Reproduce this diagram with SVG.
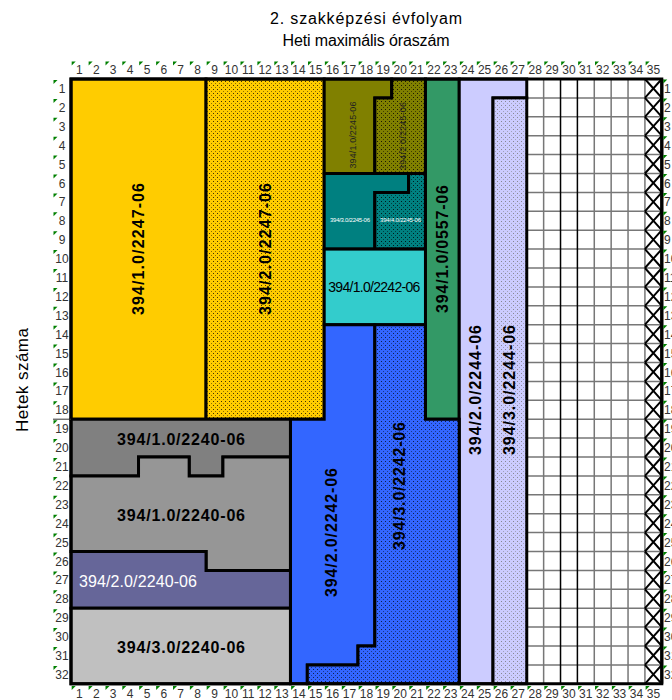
<svg xmlns="http://www.w3.org/2000/svg" width="672" height="700" viewBox="0 0 672 700">
<defs>
<pattern id="dotY" width="4" height="4" patternUnits="userSpaceOnUse"><rect width="4" height="4" fill="#FFCC00"/><rect x="1" y="1" width="1" height="1" fill="#000" fill-opacity="0.75"/><rect x="3" y="3" width="1" height="1" fill="#000" fill-opacity="0.45"/></pattern>
<pattern id="dotO" width="4" height="4" patternUnits="userSpaceOnUse"><rect width="4" height="4" fill="#808000"/><rect x="1" y="1" width="1" height="1" fill="#000" fill-opacity="0.8"/><rect x="3" y="3" width="1" height="1" fill="#000" fill-opacity="0.5"/></pattern>
<pattern id="dotT" width="4" height="4" patternUnits="userSpaceOnUse"><rect width="4" height="4" fill="#008080"/><rect x="1" y="1" width="1" height="1" fill="#000" fill-opacity="0.8"/><rect x="3" y="3" width="1" height="1" fill="#000" fill-opacity="0.5"/></pattern>
<pattern id="dotB" width="4" height="4" patternUnits="userSpaceOnUse"><rect width="4" height="4" fill="#3366FF"/><rect x="1" y="1" width="1" height="1" fill="#000" fill-opacity="0.7"/><rect x="3" y="3" width="1" height="1" fill="#000" fill-opacity="0.45"/></pattern>
<pattern id="dotL" width="4" height="4" patternUnits="userSpaceOnUse"><rect width="4" height="4" fill="#CCCCFF"/><rect x="1" y="1" width="1" height="1" fill="#777" fill-opacity="0.8"/><rect x="3" y="3" width="1" height="1" fill="#777" fill-opacity="0.5"/></pattern>
<path id="tri" d="M0,0 h4 l-4,4 z" fill="#008000"/>
</defs>
<style>
.blk{stroke:#000;stroke-width:3;stroke-linejoin:miter}
.t{font-family:"Liberation Sans",Arial,sans-serif}
.b{font-weight:bold;font-size:16px;fill:#000}
.ax{font-family:"Liberation Sans",Arial,sans-serif;font-size:12px;fill:#333;text-anchor:middle}
.axr{font-family:"Liberation Sans",Arial,sans-serif;font-size:12px;fill:#333;text-anchor:start}
.gl{stroke:#777;stroke-width:1.5;fill:none}
.gk{stroke:#000;stroke-width:1.5;fill:none}
.x{stroke:#000;stroke-width:2;fill:none}
</style>
<rect width="672" height="700" fill="#fff"/>
<g id="title" class="t" text-anchor="middle" fill="#000">
<text x="366" y="24" font-size="16" textLength="192">2. szakképzési évfolyam</text>
<text x="366" y="46" font-size="16" textLength="167">Heti maximális óraszám</text>
</g>
<g id="yaxis-title"><text class="t" x="22" y="386" font-size="17" text-anchor="middle" transform="rotate(-90 22 380)" textLength="104">Hetek száma</text></g>

<g id="grid">
<rect x="526.76" y="79" width="135.04" height="604.8" fill="#fff"/>
<g class="gl">
<path d="M543.64,79V683.8M594.28,79V683.8M611.16,79V683.8M628.04,79V683.8M644.92,79V683.8"/>
<path d="M526.76,97.9H661.8M526.76,116.8H661.8M526.76,135.7H661.8M526.76,154.6H661.8M526.76,173.5H661.8M526.76,192.4H661.8M526.76,211.3H661.8M526.76,230.2H661.8M526.76,249.1H661.8M526.76,268H661.8M526.76,286.9H661.8M526.76,305.8H661.8M526.76,324.7H661.8M526.76,343.6H661.8M526.76,362.5H661.8M526.76,381.4H661.8M526.76,400.3H661.8M526.76,419.2H661.8M526.76,438.1H661.8M526.76,457H661.8M526.76,475.9H661.8M526.76,494.8H661.8M526.76,513.7H661.8M526.76,532.6H661.8M526.76,551.5H661.8M526.76,570.4H661.8M526.76,589.3H661.8M526.76,608.2H661.8M526.76,627.1H661.8M526.76,646H661.8M526.76,664.9H661.8"/>
</g>
<path class="gk" d="M560.52,79V683.8M577.4,79V683.8"/>
<path class="x" d="M644.92,79L661.8,97.9M661.8,79L644.92,97.9M644.92,97.9L661.8,116.8M661.8,97.9L644.92,116.8M644.92,116.8L661.8,135.7M661.8,116.8L644.92,135.7M644.92,135.7L661.8,154.6M661.8,135.7L644.92,154.6M644.92,154.6L661.8,173.5M661.8,154.6L644.92,173.5M644.92,173.5L661.8,192.4M661.8,173.5L644.92,192.4M644.92,192.4L661.8,211.3M661.8,192.4L644.92,211.3M644.92,211.3L661.8,230.2M661.8,211.3L644.92,230.2M644.92,230.2L661.8,249.1M661.8,230.2L644.92,249.1M644.92,249.1L661.8,268M661.8,249.1L644.92,268M644.92,268L661.8,286.9M661.8,268L644.92,286.9M644.92,286.9L661.8,305.8M661.8,286.9L644.92,305.8M644.92,305.8L661.8,324.7M661.8,305.8L644.92,324.7M644.92,324.7L661.8,343.6M661.8,324.7L644.92,343.6M644.92,343.6L661.8,362.5M661.8,343.6L644.92,362.5M644.92,362.5L661.8,381.4M661.8,362.5L644.92,381.4M644.92,381.4L661.8,400.3M661.8,381.4L644.92,400.3M644.92,400.3L661.8,419.2M661.8,400.3L644.92,419.2M644.92,419.2L661.8,438.1M661.8,419.2L644.92,438.1M644.92,438.1L661.8,457M661.8,438.1L644.92,457M644.92,457L661.8,475.9M661.8,457L644.92,475.9M644.92,475.9L661.8,494.8M661.8,475.9L644.92,494.8M644.92,494.8L661.8,513.7M661.8,494.8L644.92,513.7M644.92,513.7L661.8,532.6M661.8,513.7L644.92,532.6M644.92,532.6L661.8,551.5M661.8,532.6L644.92,551.5M644.92,551.5L661.8,570.4M661.8,551.5L644.92,570.4M644.92,570.4L661.8,589.3M661.8,570.4L644.92,589.3M644.92,589.3L661.8,608.2M661.8,589.3L644.92,608.2M644.92,608.2L661.8,627.1M661.8,608.2L644.92,627.1M644.92,627.1L661.8,646M661.8,627.1L644.92,646M644.92,646L661.8,664.9M661.8,646L644.92,664.9M644.92,664.9L661.8,683.8M661.8,664.9L644.92,683.8"/>
<path d="M661.8,79V683.8" stroke="#000" stroke-width="3"/>
</g>

<g id="n-394-1-0-2247-06"><rect class="blk" x="71" y="79" width="135.04" height="340.2" fill="#FFCC00"/>
<text class="t b" x="138" y="254.6" text-anchor="middle" transform="rotate(-90 138 249)" textLength="132">394/1.0/2247-06</text></g>
<g id="n-394-2-0-2247-06"><rect class="blk" x="206.04" y="79" width="118.16" height="340.2" fill="url(#dotY)"/>
<text class="t b" x="265" y="254.6" text-anchor="middle" transform="rotate(-90 265 249)" textLength="132">394/2.0/2247-06</text></g>
<g id="n-394-1-0-2245-06"><polygon class="blk" points="324.2,79 391.72,79 391.72,97.9 374.84,97.9 374.84,173.5 324.2,173.5" fill="#808000"/>
<text class="t" x="353" y="138" font-size="9" fill="#222" text-anchor="middle" transform="rotate(-90 353 135)" textLength="67">394/1.0/2245-06</text></g>
<g id="n-394-2-0-2245-06"><polygon class="blk" points="391.72,79 425.48,79 425.48,173.5 374.84,173.5 374.84,97.9 391.72,97.9" fill="url(#dotO)"/>
<text class="t" x="403" y="139" font-size="9" fill="#222" text-anchor="middle" transform="rotate(-90 403 136)" textLength="68">394/2.0/2245-06</text></g>
<g id="n-394-3-0-2245-06"><polygon class="blk" points="324.2,173.5 408.6,173.5 408.6,192.4 374.84,192.4 374.84,249.1 324.2,249.1" fill="#008080"/>
<text class="t" x="350" y="222" font-size="6" fill="#fff" text-anchor="middle" textLength="40">394/3.0/2245-06</text></g>
<g id="n-394-4-0-2245-06"><polygon class="blk" points="408.6,173.5 425.48,173.5 425.48,249.1 374.84,249.1 374.84,192.4 408.6,192.4" fill="url(#dotT)"/>
<text class="t" x="400.5" y="222" font-size="6" fill="#fff" text-anchor="middle" textLength="41">394/4.0/2245-06</text></g>
<g id="n-394-1-0-2242-06"><rect class="blk" x="324.2" y="249.1" width="101.28" height="75.6" fill="#33CCCC"/>
<text class="t" x="374.3" y="291.5" font-size="14" fill="#000" text-anchor="middle" textLength="92">394/1.0/2242-06</text></g>
<g id="n-394-1-0-0557-06"><rect class="blk" x="425.48" y="79" width="33.76" height="340.2" fill="#339966"/>
<text class="t b" x="442" y="254.6" text-anchor="middle" transform="rotate(-90 442 249)" textLength="128">394/1.0/0557-06</text></g>
<g id="n-394-2-0-2244-06"><polygon class="blk" points="459.24,79 526.76,79 526.76,97.9 493,97.9 493,683.8 459.24,683.8" fill="#CCCCFF"/>
<text class="t b" x="475" y="395.6" text-anchor="middle" transform="rotate(-90 475 390)" textLength="130">394/2.0/2244-06</text></g>
<g id="n-394-3-0-2244-06"><rect class="blk" x="493" y="97.9" width="33.76" height="585.9" fill="url(#dotL)"/>
<text class="t b" x="509" y="395.6" text-anchor="middle" transform="rotate(-90 509 390)" textLength="130">394/3.0/2244-06</text></g>
<g id="n-394-2-0-2242-06"><polygon class="blk" points="290.44,419.2 324.2,419.2 324.2,324.7 374.84,324.7 374.84,646 357.96,646 357.96,664.9 307.32,664.9 307.32,683.8 290.44,683.8" fill="#3366FF"/>
<text class="t b" x="331.5" y="538.1" text-anchor="middle" transform="rotate(-90 331.5 532.5)" textLength="129">394/2.0/2242-06</text></g>
<g id="n-394-3-0-2242-06"><polygon class="blk" points="374.84,324.7 425.48,324.7 425.48,419.2 459.24,419.2 459.24,683.8 307.32,683.8 307.32,664.9 357.96,664.9 357.96,646 374.84,646" fill="url(#dotB)"/>
<text class="t b" x="399" y="491.6" text-anchor="middle" transform="rotate(-90 399 486)" textLength="128">394/3.0/2242-06</text></g>
<g id="n-394-1-0-2240-06-a"><polygon class="blk" points="71,419.2 290.44,419.2 290.44,457 222.92,457 222.92,475.9 189.16,475.9 189.16,457 138.52,457 138.52,475.9 71,475.9" fill="#808080"/>
<text class="t b" x="181" y="445" text-anchor="middle" textLength="128">394/1.0/2240-06</text></g>
<g id="n-394-1-0-2240-06-b"><polygon class="blk" points="71,475.9 138.52,475.9 138.52,457 189.16,457 189.16,475.9 222.92,475.9 222.92,457 290.44,457 290.44,570.4 206.04,570.4 206.04,551.5 71,551.5" fill="#969696"/>
<text class="t b" x="181" y="521" text-anchor="middle" textLength="128">394/1.0/2240-06</text></g>
<g id="n-394-2-0-2240-06"><polygon class="blk" points="71,551.5 206.04,551.5 206.04,570.4 290.44,570.4 290.44,608.2 71,608.2" fill="#666699"/>
<text class="t" x="138" y="587" font-size="16" fill="#fff" text-anchor="middle" textLength="118">394/2.0/2240-06</text></g>
<g id="n-394-3-0-2240-06"><rect class="blk" x="71" y="608.2" width="219.44" height="75.6" fill="#C0C0C0"/>
<text class="t b" x="181" y="652.5" text-anchor="middle" textLength="128">394/3.0/2240-06</text></g>

<g id="frame"><path d="M71,79H661.8V683.8H71Z" fill="none" stroke="#000" stroke-width="3"/>
<path d="M53,419.2H71M662,419.2H672" stroke="#333" stroke-width="1"/></g>

<g id="top-axis">
<text class="ax" x="79.4" y="74">1</text><text class="ax" x="96.3" y="74">2</text><text class="ax" x="113.2" y="74">3</text><text class="ax" x="130.1" y="74">4</text><text class="ax" x="147" y="74">5</text><text class="ax" x="163.8" y="74">6</text><text class="ax" x="180.7" y="74">7</text><text class="ax" x="197.6" y="74">8</text><text class="ax" x="214.5" y="74">9</text><text class="ax" x="231.4" y="74">10</text><text class="ax" x="248.2" y="74">11</text><text class="ax" x="265.1" y="74">12</text><text class="ax" x="282" y="74">13</text><text class="ax" x="298.9" y="74">14</text><text class="ax" x="315.8" y="74">15</text><text class="ax" x="332.6" y="74">16</text><text class="ax" x="349.5" y="74">17</text><text class="ax" x="366.4" y="74">18</text><text class="ax" x="383.3" y="74">19</text><text class="ax" x="400.2" y="74">20</text><text class="ax" x="417" y="74">21</text><text class="ax" x="433.9" y="74">22</text><text class="ax" x="450.8" y="74">23</text><text class="ax" x="467.7" y="74">24</text><text class="ax" x="484.6" y="74">25</text><text class="ax" x="501.4" y="74">26</text><text class="ax" x="518.3" y="74">27</text><text class="ax" x="535.2" y="74">28</text><text class="ax" x="552.1" y="74">29</text><text class="ax" x="569" y="74">30</text><text class="ax" x="585.8" y="74">31</text><text class="ax" x="602.7" y="74">32</text><text class="ax" x="619.6" y="74">33</text><text class="ax" x="636.5" y="74">34</text><text class="ax" x="653.4" y="74">35</text>
<use href="#tri" x="71.7" y="61.5"/><use href="#tri" x="88.6" y="61.5"/><use href="#tri" x="105.5" y="61.5"/><use href="#tri" x="122.3" y="61.5"/><use href="#tri" x="139.2" y="61.5"/><use href="#tri" x="156.1" y="61.5"/><use href="#tri" x="173" y="61.5"/><use href="#tri" x="189.9" y="61.5"/><use href="#tri" x="206.7" y="61.5"/><use href="#tri" x="223.6" y="61.5"/><use href="#tri" x="240.5" y="61.5"/><use href="#tri" x="257.4" y="61.5"/><use href="#tri" x="274.3" y="61.5"/><use href="#tri" x="291.1" y="61.5"/><use href="#tri" x="308" y="61.5"/><use href="#tri" x="324.9" y="61.5"/><use href="#tri" x="341.8" y="61.5"/><use href="#tri" x="358.7" y="61.5"/><use href="#tri" x="375.5" y="61.5"/><use href="#tri" x="392.4" y="61.5"/><use href="#tri" x="409.3" y="61.5"/><use href="#tri" x="426.2" y="61.5"/><use href="#tri" x="443.1" y="61.5"/><use href="#tri" x="459.9" y="61.5"/><use href="#tri" x="476.8" y="61.5"/><use href="#tri" x="493.7" y="61.5"/><use href="#tri" x="510.6" y="61.5"/><use href="#tri" x="527.5" y="61.5"/><use href="#tri" x="544.3" y="61.5"/><use href="#tri" x="561.2" y="61.5"/><use href="#tri" x="578.1" y="61.5"/><use href="#tri" x="595" y="61.5"/><use href="#tri" x="611.9" y="61.5"/><use href="#tri" x="628.7" y="61.5"/><use href="#tri" x="645.6" y="61.5"/>
</g>
<g id="bottom-axis">
<text class="ax" x="79.4" y="698">1</text><text class="ax" x="96.3" y="698">2</text><text class="ax" x="113.2" y="698">3</text><text class="ax" x="130.1" y="698">4</text><text class="ax" x="147" y="698">5</text><text class="ax" x="163.8" y="698">6</text><text class="ax" x="180.7" y="698">7</text><text class="ax" x="197.6" y="698">8</text><text class="ax" x="214.5" y="698">9</text><text class="ax" x="231.4" y="698">10</text><text class="ax" x="248.2" y="698">11</text><text class="ax" x="265.1" y="698">12</text><text class="ax" x="282" y="698">13</text><text class="ax" x="298.9" y="698">14</text><text class="ax" x="315.8" y="698">15</text><text class="ax" x="332.6" y="698">16</text><text class="ax" x="349.5" y="698">17</text><text class="ax" x="366.4" y="698">18</text><text class="ax" x="383.3" y="698">19</text><text class="ax" x="400.2" y="698">20</text><text class="ax" x="417" y="698">21</text><text class="ax" x="433.9" y="698">22</text><text class="ax" x="450.8" y="698">23</text><text class="ax" x="467.7" y="698">24</text><text class="ax" x="484.6" y="698">25</text><text class="ax" x="501.4" y="698">26</text><text class="ax" x="518.3" y="698">27</text><text class="ax" x="535.2" y="698">28</text><text class="ax" x="552.1" y="698">29</text><text class="ax" x="569" y="698">30</text><text class="ax" x="585.8" y="698">31</text><text class="ax" x="602.7" y="698">32</text><text class="ax" x="619.6" y="698">33</text><text class="ax" x="636.5" y="698">34</text><text class="ax" x="653.4" y="698">35</text>
<use href="#tri" x="71.7" y="686"/><use href="#tri" x="88.6" y="686"/><use href="#tri" x="105.5" y="686"/><use href="#tri" x="122.3" y="686"/><use href="#tri" x="139.2" y="686"/><use href="#tri" x="156.1" y="686"/><use href="#tri" x="173" y="686"/><use href="#tri" x="189.9" y="686"/><use href="#tri" x="206.7" y="686"/><use href="#tri" x="223.6" y="686"/><use href="#tri" x="240.5" y="686"/><use href="#tri" x="257.4" y="686"/><use href="#tri" x="274.3" y="686"/><use href="#tri" x="291.1" y="686"/><use href="#tri" x="308" y="686"/><use href="#tri" x="324.9" y="686"/><use href="#tri" x="341.8" y="686"/><use href="#tri" x="358.7" y="686"/><use href="#tri" x="375.5" y="686"/><use href="#tri" x="392.4" y="686"/><use href="#tri" x="409.3" y="686"/><use href="#tri" x="426.2" y="686"/><use href="#tri" x="443.1" y="686"/><use href="#tri" x="459.9" y="686"/><use href="#tri" x="476.8" y="686"/><use href="#tri" x="493.7" y="686"/><use href="#tri" x="510.6" y="686"/><use href="#tri" x="527.5" y="686"/><use href="#tri" x="544.3" y="686"/><use href="#tri" x="561.2" y="686"/><use href="#tri" x="578.1" y="686"/><use href="#tri" x="595" y="686"/><use href="#tri" x="611.9" y="686"/><use href="#tri" x="628.7" y="686"/><use href="#tri" x="645.6" y="686"/>
</g>
<g id="left-axis">
<text class="ax" x="62" y="93">1</text><text class="ax" x="62" y="111.9">2</text><text class="ax" x="62" y="130.8">3</text><text class="ax" x="62" y="149.7">4</text><text class="ax" x="62" y="168.6">5</text><text class="ax" x="62" y="187.5">6</text><text class="ax" x="62" y="206.4">7</text><text class="ax" x="62" y="225.3">8</text><text class="ax" x="62" y="244.2">9</text><text class="ax" x="62" y="263.1">10</text><text class="ax" x="62" y="282">11</text><text class="ax" x="62" y="300.9">12</text><text class="ax" x="62" y="319.8">13</text><text class="ax" x="62" y="338.7">14</text><text class="ax" x="62" y="357.6">15</text><text class="ax" x="62" y="376.5">16</text><text class="ax" x="62" y="395.4">17</text><text class="ax" x="62" y="414.3">18</text><text class="ax" x="62" y="433.2">19</text><text class="ax" x="62" y="452.1">20</text><text class="ax" x="62" y="471">21</text><text class="ax" x="62" y="489.9">22</text><text class="ax" x="62" y="508.8">23</text><text class="ax" x="62" y="527.7">24</text><text class="ax" x="62" y="546.6">25</text><text class="ax" x="62" y="565.5">26</text><text class="ax" x="62" y="584.4">27</text><text class="ax" x="62" y="603.3">28</text><text class="ax" x="62" y="622.2">29</text><text class="ax" x="62" y="641.1">30</text><text class="ax" x="62" y="660">31</text><text class="ax" x="62" y="678.9">32</text>
<use href="#tri" x="53.5" y="80"/><use href="#tri" x="53.5" y="98.9"/><use href="#tri" x="53.5" y="117.8"/><use href="#tri" x="53.5" y="136.7"/><use href="#tri" x="53.5" y="155.6"/><use href="#tri" x="53.5" y="174.5"/><use href="#tri" x="53.5" y="193.4"/><use href="#tri" x="53.5" y="212.3"/><use href="#tri" x="53.5" y="231.2"/><use href="#tri" x="53.5" y="250.1"/><use href="#tri" x="53.5" y="269"/><use href="#tri" x="53.5" y="287.9"/><use href="#tri" x="53.5" y="306.8"/><use href="#tri" x="53.5" y="325.7"/><use href="#tri" x="53.5" y="344.6"/><use href="#tri" x="53.5" y="363.5"/><use href="#tri" x="53.5" y="382.4"/><use href="#tri" x="53.5" y="401.3"/><use href="#tri" x="53.5" y="420.2"/><use href="#tri" x="53.5" y="439.1"/><use href="#tri" x="53.5" y="458"/><use href="#tri" x="53.5" y="476.9"/><use href="#tri" x="53.5" y="495.8"/><use href="#tri" x="53.5" y="514.7"/><use href="#tri" x="53.5" y="533.6"/><use href="#tri" x="53.5" y="552.5"/><use href="#tri" x="53.5" y="571.4"/><use href="#tri" x="53.5" y="590.3"/><use href="#tri" x="53.5" y="609.2"/><use href="#tri" x="53.5" y="628.1"/><use href="#tri" x="53.5" y="647"/><use href="#tri" x="53.5" y="665.9"/>
</g>
<g id="right-axis">
<text class="axr" x="664" y="93">1</text><text class="axr" x="664" y="111.9">2</text><text class="axr" x="664" y="130.8">3</text><text class="axr" x="664" y="149.7">4</text><text class="axr" x="664" y="168.6">5</text><text class="axr" x="664" y="187.5">6</text><text class="axr" x="664" y="206.4">7</text><text class="axr" x="664" y="225.3">8</text><text class="axr" x="664" y="244.2">9</text><text class="axr" x="664" y="263.1">10</text><text class="axr" x="664" y="282">11</text><text class="axr" x="664" y="300.9">12</text><text class="axr" x="664" y="319.8">13</text><text class="axr" x="664" y="338.7">14</text><text class="axr" x="664" y="357.6">15</text><text class="axr" x="664" y="376.5">16</text><text class="axr" x="664" y="395.4">17</text><text class="axr" x="664" y="414.3">18</text><text class="axr" x="664" y="433.2">19</text><text class="axr" x="664" y="452.1">20</text><text class="axr" x="664" y="471">21</text><text class="axr" x="664" y="489.9">22</text><text class="axr" x="664" y="508.8">23</text><text class="axr" x="664" y="527.7">24</text><text class="axr" x="664" y="546.6">25</text><text class="axr" x="664" y="565.5">26</text><text class="axr" x="664" y="584.4">27</text><text class="axr" x="664" y="603.3">28</text><text class="axr" x="664" y="622.2">29</text><text class="axr" x="664" y="641.1">30</text><text class="axr" x="664" y="660">31</text><text class="axr" x="664" y="678.9">32</text>
<use href="#tri" x="663.3" y="79.5"/><use href="#tri" x="663.3" y="98.4"/><use href="#tri" x="663.3" y="117.3"/><use href="#tri" x="663.3" y="136.2"/><use href="#tri" x="663.3" y="155.1"/><use href="#tri" x="663.3" y="174"/><use href="#tri" x="663.3" y="192.9"/><use href="#tri" x="663.3" y="211.8"/><use href="#tri" x="663.3" y="230.7"/><use href="#tri" x="663.3" y="249.6"/><use href="#tri" x="663.3" y="268.5"/><use href="#tri" x="663.3" y="287.4"/><use href="#tri" x="663.3" y="306.3"/><use href="#tri" x="663.3" y="325.2"/><use href="#tri" x="663.3" y="344.1"/><use href="#tri" x="663.3" y="363"/><use href="#tri" x="663.3" y="381.9"/><use href="#tri" x="663.3" y="400.8"/><use href="#tri" x="663.3" y="419.7"/><use href="#tri" x="663.3" y="438.6"/><use href="#tri" x="663.3" y="457.5"/><use href="#tri" x="663.3" y="476.4"/><use href="#tri" x="663.3" y="495.3"/><use href="#tri" x="663.3" y="514.2"/><use href="#tri" x="663.3" y="533.1"/><use href="#tri" x="663.3" y="552"/><use href="#tri" x="663.3" y="570.9"/><use href="#tri" x="663.3" y="589.8"/><use href="#tri" x="663.3" y="608.7"/><use href="#tri" x="663.3" y="627.6"/><use href="#tri" x="663.3" y="646.5"/><use href="#tri" x="663.3" y="665.4"/>
</g>
</svg>
